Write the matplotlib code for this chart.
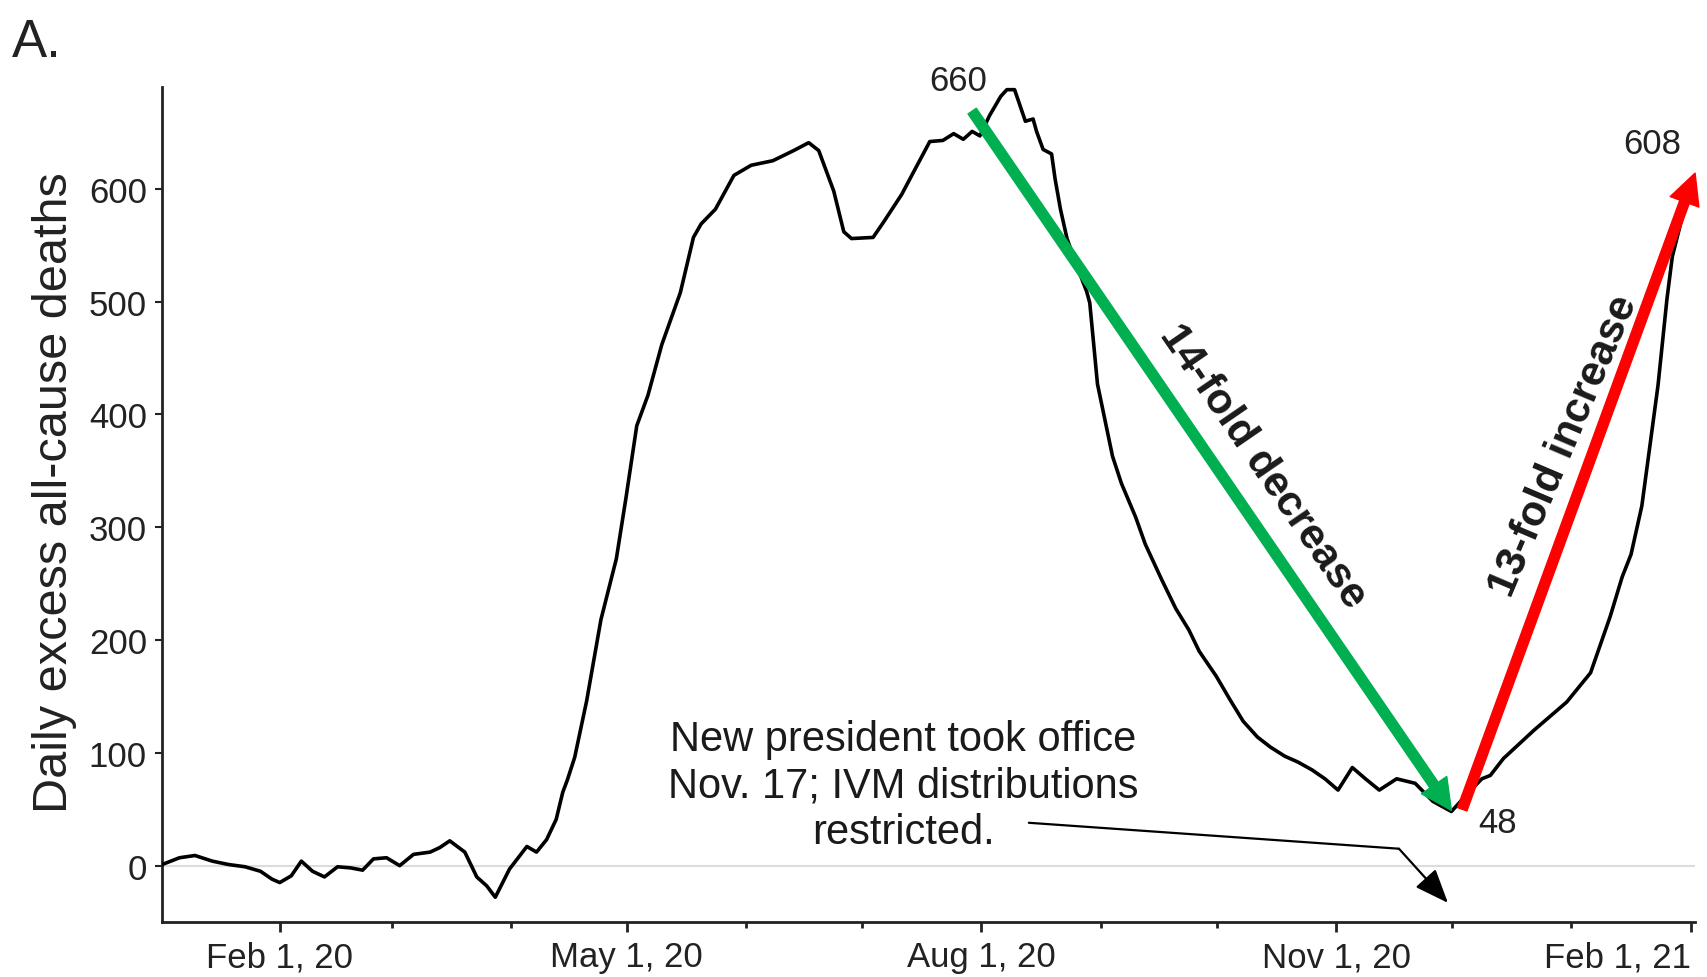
import matplotlib
matplotlib.use('Agg')
import matplotlib.pyplot as plt
import matplotlib.dates as mdates
import pandas as pd

plt.rcParams['font.family'] = ['Liberation Sans', 'DejaVu Sans']

# Dane: dni od 1 stycznia 2020 i dzienne nadmiarowe zgony
days = [0.5, 5, 9, 13.5, 17.7, 22, 26, 29, 31, 34, 36.6, 39.5, 42.6, 46, 49.4,
        52.5, 55.3, 58.7, 62.1, 65.7, 70.0, 72.5, 75.1, 79.0, 82.1, 84.7, 86.9,
        90.6, 95.1, 97.6, 100.2, 102.7, 104.4, 105.6, 107.5, 110.6, 114.3,
        118.3, 120.8, 123.6, 126.5, 130.1, 134.9, 138.3, 140.3, 144.0, 148.8,
        153.3, 158.9, 164.3, 168.2, 170.8, 174.7, 177.3, 179.3, 184.9, 187.7,
        192.3, 195.4, 199.6, 203.0, 205.8, 208.3, 210.6, 212.6, 215.1, 218.0,
        219.6, 221.6, 223.0, 224.4, 226.4, 227.3, 229.0, 231.2, 232.1, 233.5,
        235.2, 237.7, 240.3, 241.1, 243.1, 247.0, 249.3, 253.0, 255.5, 259.7,
        263.4, 266.8, 269.5, 273.9, 277.5, 280.9, 284.6, 288.0, 291.7, 295.0,
        298.7, 302.1, 305.5, 309.2, 312.6, 316.2, 320.7, 325.5, 330.1, 334.9,
        339.4, 342.8, 345.0, 348.4, 356.3, 364.8, 371.0, 376.1, 379.2, 381.5,
        384.3, 386.5, 388.5, 390.8, 392.2, 395.0, 398.1]
deaths = [1, 7, 9, 4, 1, -1, -5, -12, -15, -9, 4, -5, -10, -1, -2,
          -4, 6, 7, 0, 10, 12, 16, 22, 12, -10, -18, -28,
          -3, 17, 12, 23, 41, 65, 76, 96, 146, 218,
          272, 326, 390, 417, 462, 508, 557, 569, 582, 612,
          621, 625, 634, 641, 634, 598, 562, 556, 557, 571,
          595, 615, 642, 643, 649, 644, 651, 647, 665, 682,
          688, 688, 674, 660, 662, 651, 635, 631, 609, 582,
          556, 532, 509, 499, 427, 363, 339, 309, 285, 254,
          228, 209, 190, 168, 147, 128, 114, 105, 97, 92,
          85, 77, 67, 87, 77, 67, 77, 73, 57, 48,
          65, 77, 80, 95, 120, 145, 171, 221, 256, 276,
          319, 375, 426, 502, 540, 578, 608]

start = pd.Timestamp('2020-01-01')
dates = start + pd.to_timedelta(days, unit='D')

tick_dates = ['2020-02-01', '2020-05-01', '2020-08-01', '2020-11-01', '2021-02-01']
tick_labels = ['Feb 1, 20', 'May 1, 20', 'Aug 1, 20', 'Nov 1, 20', 'Feb 1, 21']

# punkty opisane liczbami (szczyt, minimum, koniec)
label_texts = ['660', '48', '608']
label_dates = ['2020-07-26', '2020-12-13', '2021-01-22']
label_values = [696, 38, 640]


def d(days_from_start):
    return start + pd.Timedelta(days=days_from_start)


fig = plt.figure(figsize=(17.07, 9.78), dpi=100)
ax = fig.add_axes([0.095, 0.0562, 0.898, 0.8534])

ax.axhline(0, color='#dcdcdc', lw=1.5, zorder=1)
ax.plot(dates, deaths, color='black', lw=2.6, zorder=3)

ax.set_xlim(d(0.5), d(398.1))
ax.set_ylim(-50, 690)

# osie
for side in ['top', 'right']:
    ax.spines[side].set_visible(False)
for side in ['left', 'bottom']:
    ax.spines[side].set_linewidth(2)
    ax.spines[side].set_color('#222222')

ax.set_yticks(range(0, 601, 100))
ax.tick_params(axis='y', labelsize=25, length=5, width=1.5, pad=6, colors='#222222')
ax.set_xticks(pd.to_datetime(tick_dates))
ax.set_xticklabels(tick_labels)
ax.get_xticklabels()[-1].set_horizontalalignment('right')
ax.xaxis.set_minor_locator(mdates.MonthLocator())
ax.tick_params(axis='x', which='major', labelsize=25, length=7, width=2, pad=6, colors='#222222')
ax.tick_params(axis='x', which='minor', length=4, width=2, color='#222222')

ax.set_ylabel('Daily excess all-cause deaths', fontsize=35, color='#222222')
ax.yaxis.set_label_coords(-0.0555, 0.516)

fig.text(0.007, 0.9417, 'A.', fontsize=38, color='#222222', va='baseline')

# etykiety liczbowe
for t, dt, v in zip(label_texts, label_dates, label_values):
    ax.text(pd.Timestamp(dt), v, t, fontsize=25, color='#222222',
            ha='center', va='center', clip_on=False)

# strzalki zielona i czerwona
ax.annotate('', xy=(d(334.9), 49), xytext=(d(210.6), 669),
            arrowprops=dict(arrowstyle='simple,head_length=1.1,head_width=1.1,tail_width=0.36',
                            color='#00b050', mutation_scale=20, shrinkA=0, shrinkB=0),
            zorder=4, annotation_clip=False)
ax.annotate('', xy=(d(398.1), 614), xytext=(d(337.7), 50),
            arrowprops=dict(arrowstyle='simple,head_length=1.1,head_width=1.1,tail_width=0.36',
                            color='#ff0000', mutation_scale=20, shrinkA=0, shrinkB=0),
            zorder=4, annotation_clip=False)

ax.text(d(286), 355, '14-fold decrease', fontsize=30.5, fontweight='bold', color='#1a1a1a',
        rotation=-55.5, ha='center', va='center', rotation_mode='anchor')
ax.text(d(364.2), 373, '13-fold increase', fontsize=30.5, fontweight='bold', color='#1a1a1a',
        rotation=67, ha='center', va='center', rotation_mode='anchor')

# opis zmiany prezydenta
ax.text(d(192.8), 71, 'New president took office\nNov. 17; IVM distributions\nrestricted.',
        fontsize=30, color='#1a1a1a', ha='center', va='center', linespacing=1.22,
        multialignment='center')
ax.annotate('', xy=(d(321.3), 15), xytext=(d(225.3), 38),
            arrowprops=dict(arrowstyle='-', lw=1.6, color='black', shrinkA=0, shrinkB=0))
ax.annotate('', xy=(d(334), -33), xytext=(d(321.3), 15),
            arrowprops=dict(arrowstyle='-|>,head_length=1.5,head_width=0.6', lw=1.6,
                            color='black', mutation_scale=14, shrinkA=0, shrinkB=0))

fig.savefig('out.png', dpi=100, facecolor='white')
